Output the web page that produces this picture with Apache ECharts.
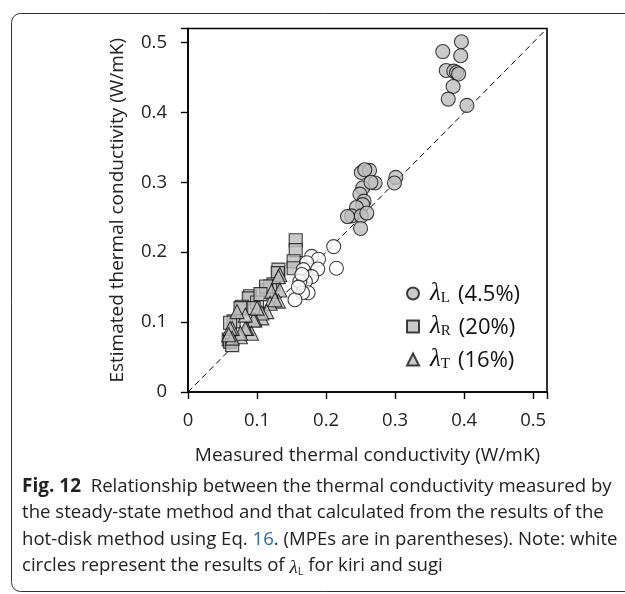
<!DOCTYPE html>
<html>
<head>
<meta charset="utf-8">
<script src="https://cdn.jsdelivr.net/npm/echarts@6/dist/echarts.min.js"></script>
<style>
  html, body { margin: 0; padding: 0; background: #fff; }
  #chart { width: 625px; height: 594px; }
</style>
</head>
<body>
<div id="chart"></div>
<script>
// axis ticks
const tickValues = [0, 0.1, 0.2, 0.3, 0.4, 0.5];

// lambda_L (gray circles): measured / estimated
const lamLX = [0.396, 0.369, 0.395, 0.374, 0.385, 0.389, 0.392, 0.384, 0.377, 0.404,
               0.251, 0.263, 0.256, 0.271, 0.253, 0.249, 0.255, 0.253, 0.244, 0.237,
               0.251, 0.259, 0.250, 0.301, 0.299, 0.265, 0.231];
const lamLY = [0.501, 0.487, 0.481, 0.460, 0.459, 0.457, 0.455, 0.437, 0.419, 0.410,
               0.314, 0.317, 0.318, 0.299, 0.292, 0.283, 0.273, 0.268, 0.264, 0.252,
               0.252, 0.256, 0.234, 0.307, 0.299, 0.300, 0.251];

// lambda_L for kiri and sugi (white circles)
const kiriX = [0.211, 0.215, 0.179, 0.189, 0.172, 0.188, 0.167, 0.179, 0.170, 0.162,
               0.174, 0.166, 0.155, 0.165, 0.160];
const kiriY = [0.208, 0.177, 0.194, 0.190, 0.185, 0.176, 0.175, 0.165, 0.158, 0.158,
               0.142, 0.142, 0.132, 0.168, 0.150];

// lambda_R (gray squares)
const lamRX = [0.156, 0.156, 0.153, 0.153, 0.131, 0.130, 0.124, 0.114, 0.119, 0.113,
               0.090, 0.088, 0.078, 0.076, 0.100, 0.066, 0.061, 0.059, 0.061, 0.064,
               0.105, 0.095];
const lamRY = [0.217, 0.203, 0.187, 0.177, 0.175, 0.170, 0.154, 0.146, 0.151, 0.151,
               0.137, 0.134, 0.122, 0.120, 0.128, 0.101, 0.099, 0.075, 0.072, 0.067,
               0.140, 0.120];

// lambda_T (gray triangles)
const lamTX = [0.133, 0.131, 0.133, 0.131, 0.121, 0.119, 0.126, 0.114, 0.107, 0.107,
               0.097, 0.095, 0.092, 0.085, 0.083, 0.076, 0.076, 0.064, 0.061, 0.064,
               0.059, 0.083, 0.100, 0.071];
const lamTY = [0.168, 0.165, 0.146, 0.130, 0.144, 0.127, 0.132, 0.115, 0.106, 0.113,
               0.103, 0.103, 0.084, 0.091, 0.091, 0.079, 0.084, 0.091, 0.091, 0.077,
               0.082, 0.110, 0.120, 0.115];

// legend
const legendNames = ['λL', 'λR', 'λT'];
const legendSubs = ['L', 'R', 'T'];
const legendMPE = ['(4.5%)', '(20%)', '(16%)'];

const zip = (xs, ys) => xs.map((x, i) => [x, ys[i]]);

const gray = '#bdbdbd';
const edge = { borderColor: '#111', borderWidth: 1.1 };
const sans = '"Open Sans", "Noto Sans", sans-serif';
const serif = '"Liberation Serif", "DejaVu Serif", serif';
const capFont = '18.6px ' + sans;

const chart = echarts.init(document.getElementById('chart'), null, { renderer: 'canvas' });

chart.setOption({
  animation: false,
  backgroundColor: '#fff',
  grid: {
    left: 188, right: 78, top: 28.5, bottom: 202,
    show: true, borderColor: '#000', borderWidth: 1.6
  },
  xAxis: {
    type: 'value', min: 0, max: 0.52, interval: 0.1,
    name: 'Measured thermal conductivity (W/mK)',
    nameLocation: 'middle', nameGap: 54,
    nameTextStyle: { fontFamily: sans, fontSize: 19, color: '#222' },
    axisLine: { show: true, lineStyle: { color: '#000', width: 1.6 } },
    axisTick: { show: true, inside: false, length: 7, lineStyle: { color: '#000', width: 1.4 } },
    axisLabel: {
      margin: 19, fontFamily: sans, fontSize: 18.5, color: '#222',
      formatter: v => tickValues.includes(+v.toFixed(2)) ? String(+v.toFixed(2)) : ''
    },
    splitLine: { show: false }
  },
  yAxis: {
    type: 'value', min: 0, max: 0.52, interval: 0.1,
    name: 'Estimated thermal conductivity (W/mK)',
    nameLocation: 'middle', nameGap: 61, nameRotate: 90,
    nameTextStyle: { fontFamily: sans, fontSize: 19, color: '#222' },
    axisLine: { show: true, lineStyle: { color: '#000', width: 1.6 } },
    axisTick: { show: true, inside: false, length: 7, lineStyle: { color: '#000', width: 1.4 } },
    axisLabel: {
      margin: 21, fontFamily: sans, fontSize: 18.5, color: '#222',
      formatter: v => tickValues.includes(+v.toFixed(2)) ? String(+v.toFixed(2)) : ''
    },
    splitLine: { show: false }
  },
  legend: {
    data: legendNames,
    orient: 'vertical',
    left: 401, top: 276,
    itemWidth: 12, itemHeight: 12, itemGap: 8,
    formatter: name => {
      const i = legendNames.indexOf(name);
      return '{l|λ}{s|' + legendSubs[i] + '}{t|' + legendMPE[i] + '}';
    },
    textStyle: {
      padding: [0, 0, 0, 6],
      rich: {
        l: { fontFamily: serif, fontStyle: 'italic', fontSize: 25, lineHeight: 25, color: '#111', verticalAlign: 'bottom' },
        s: { fontFamily: serif, fontSize: 15, lineHeight: 15, color: '#111', verticalAlign: 'bottom' },
        t: { fontFamily: sans, fontSize: 22, lineHeight: 25, color: '#111', verticalAlign: 'bottom', padding: [0, 0, 0, 8] }
      }
    }
  },
  series: [
    {
      type: 'line', data: [[0, 0], [0.52, 0.52]], symbol: 'none', silent: true,
      lineStyle: { color: '#000', width: 1, type: [6, 4] }, z: 1
    },
    {
      name: 'λR', type: 'scatter', symbol: 'rect', symbolSize: 13,
      data: zip(lamRX, lamRY), itemStyle: Object.assign({ color: gray }, edge), z: 2
    },
    {
      name: 'λT', type: 'scatter', symbol: 'triangle', symbolSize: 14,
      data: zip(lamTX, lamTY), itemStyle: Object.assign({ color: gray }, edge), z: 3
    },
    {
      name: 'λL', type: 'scatter', symbol: 'circle', symbolSize: 14,
      data: zip(lamLX, lamLY), itemStyle: Object.assign({ color: gray }, edge), z: 4
    },
    {
      name: 'kiri-sugi', type: 'scatter', symbol: 'circle', symbolSize: 14,
      data: zip(kiriX, kiriY), itemStyle: Object.assign({ color: '#fff' }, edge), z: 4
    }
  ],
  graphic: [
    {
      type: 'rect', silent: true, z: 0,
      shape: { x: 11.5, y: 13.5, width: 640, height: 578, r: 9 },
      style: { fill: 'none', stroke: '#333', lineWidth: 1 }
    },
    {
      type: 'text', x: 22, y: 487,
      style: {
        text: '{b|Fig. 12}  Relationship between the thermal conductivity measured by',
        font: capFont, fill: '#222', verticalAlign: 'middle',
        rich: { b: { fontFamily: sans, fontWeight: 'bold', fontSize: 19, fill: '#222' } }
      }
    },
    {
      type: 'text', x: 22, y: 513,
      style: { text: 'the steady-state method and that calculated from the results of the', font: capFont, fill: '#222', verticalAlign: 'middle' }
    },
    {
      type: 'text', x: 22, y: 540,
      style: {
        text: 'hot-disk method using Eq. {c|16}. (MPEs are in parentheses). Note: white',
        font: capFont, fill: '#222', verticalAlign: 'middle',
        rich: { c: { fontFamily: sans, fontSize: 18.6, fill: '#2b6cb5' } }
      }
    },
    {
      type: 'text', x: 22, y: 566,
      style: {
        text: 'circles represent the results of {l|λ}{s|L} for kiri and sugi',
        font: capFont, fill: '#222', verticalAlign: 'middle',
        rich: {
          l: { fontFamily: serif, fontStyle: 'italic', fontSize: 19, lineHeight: 22, fill: '#222', verticalAlign: 'bottom' },
          s: { fontFamily: sans, fontSize: 11, lineHeight: 11, fill: '#222', verticalAlign: 'bottom' }
        }
      }
    }
  ]
});
</script>
</body>
</html>
